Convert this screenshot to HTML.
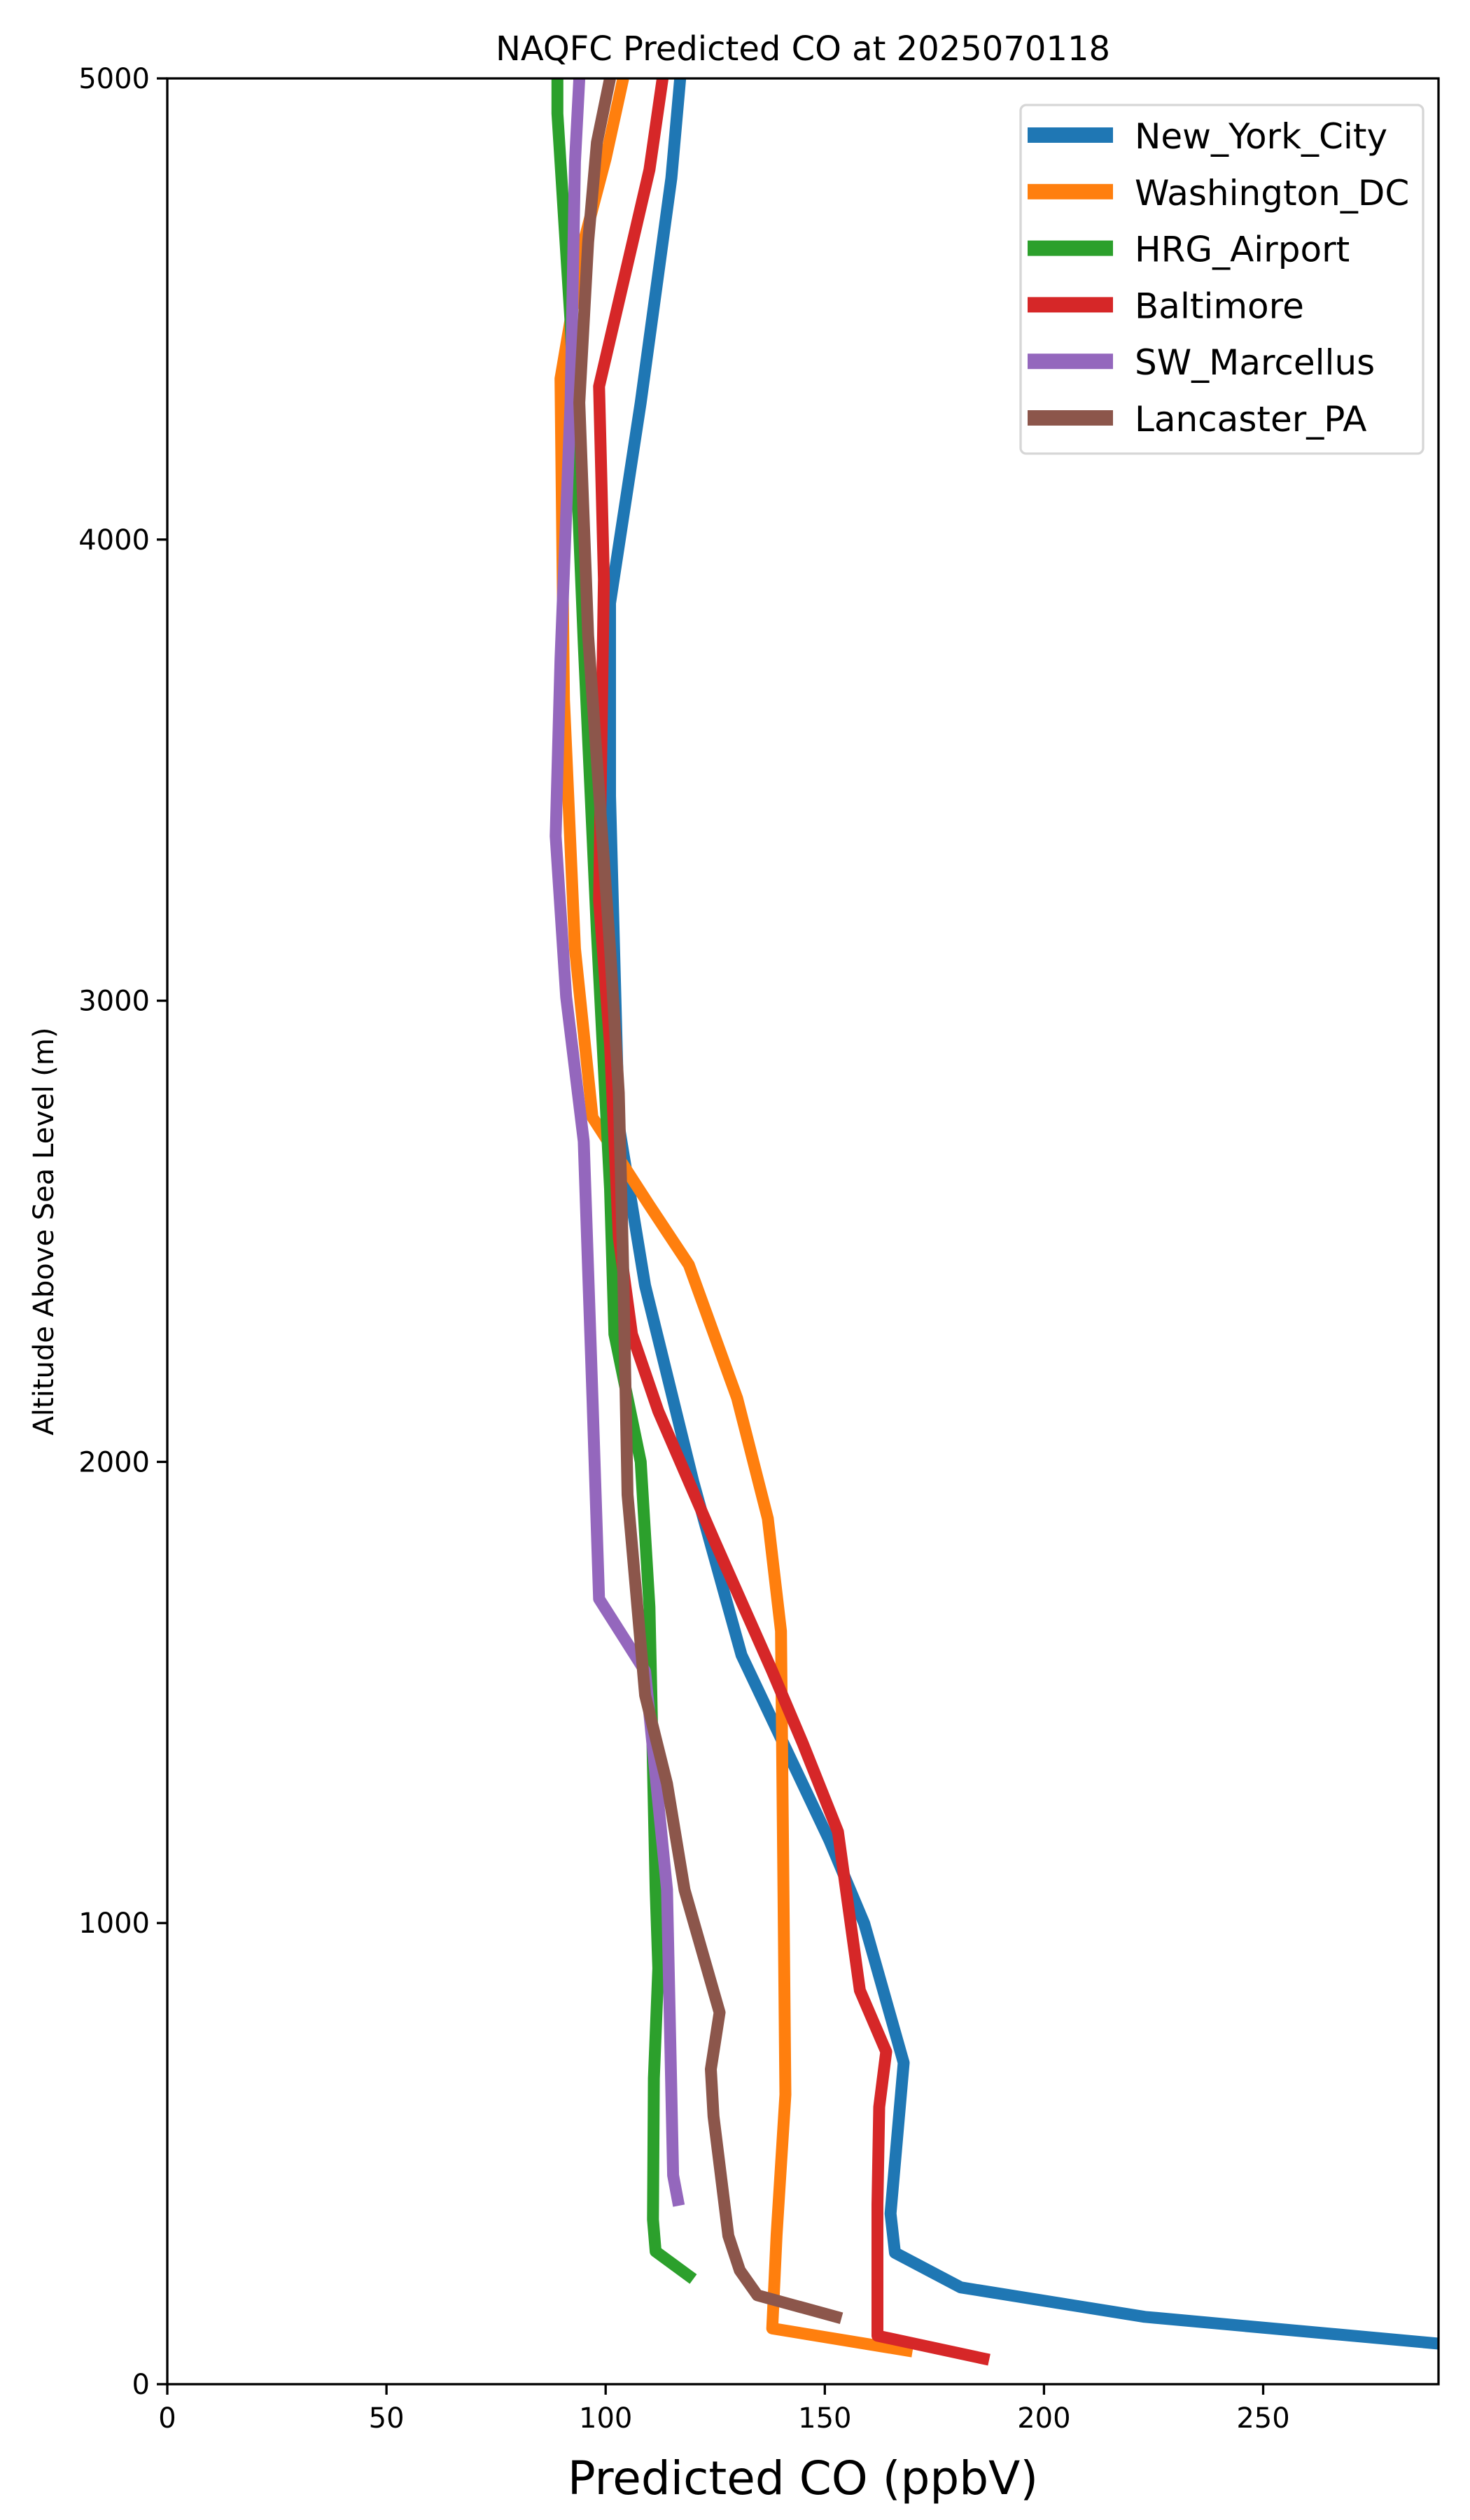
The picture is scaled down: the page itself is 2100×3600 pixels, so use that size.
<!DOCTYPE html>
<html><head><meta charset="utf-8"><style>
html,body{margin:0;padding:0;background:#fff;}
svg{display:block;font-family:"DejaVu Sans","Liberation Sans",sans-serif;}
</style></head><body>
<svg id="chart" width="2100" height="3600" viewBox="0 0 2100 3600" xmlns="http://www.w3.org/2000/svg">
<rect width="2100" height="3600" fill="#fff"/>
<defs><clipPath id="plotclip"><rect x="239" y="112" width="1816" height="3294"/></clipPath></defs>
<text x="1147" y="86" font-size="48" text-anchor="middle">NAQFC Predicted CO at 2025070118</text>
<g id="series" clip-path="url(#plotclip)"></g>
<g id="axes"></g>
<text x="1147" y="3563" font-size="66" text-anchor="middle">Predicted CO (ppbV)</text>
<text transform="translate(76,1759) rotate(-90)" font-size="40" text-anchor="middle">Altitude Above Sea Level (m)</text>
<g id="legend"></g>
</svg>
<script>
const seriesNames = ["New_York_City","Washington_DC","HRG_Airport","Baltimore","SW_Marcellus","Lancaster_PA"];
const seriesColors = ["#1f77b4","#ff7f0e","#2ca02c","#d62728","#9467bd","#8c564b"];
const nycCO  = [320,290,223,181,166,165,168,159,151,131,120,109,103,101,101,108,115,117];
const nycAlt = [62,88,146,210,285,370,697,999,1180,1581,1957,2382,2730,3444,3862,4297,4784,5000];
const dcCO   = [170,138,139,141,140,137,130,119,110,97,93,90.5,89.7,95,100,104];
const dcAlt  = [71,121,323,628,1633,1877,2138,2427,2556,2747,3113,3653,4349,4645,4826,5000];
const hrgCO  = [120,111.4,110.8,111,112,111.4,110,108,102,101,98,95,92,89,89];
const hrgAlt = [228,288,357,663,902,1072,1685,2000,2277,2591,3148,3774,4471,4924,5000];
const balCO  = [187.5,162,162,162.4,164,158,153,145,138,125,112,106,103,101,98.5,99.6,98.5,110,113];
const balAlt = [53,105,390,601,721,854,1198,1389,1546,1825,2110,2277,2486,2904,3217,3914,4332,4802,5000];
const swmCO  = [116.7,115.4,114,109,98.5,97,95,91,88.6,89.7,92,93,94];
const swmAlt = [387,453,1072,1546,1703,2138,2695,3008,3357,3740,4297,4819,5000];
const lanCO  = [153.8,134.6,130.6,128,124.6,124,126,118,114,109,105,104,103,101,96,94,96,98,101];
const lanAlt = [143,193,247,322,581,683,806,1072,1302,1494,1929,2417,2800,3113,3792,4297,4645,4861,5000];
const xTicks = [0,50,100,150,200,250];
const yTicks = [0,1000,2000,3000,4000,5000];
const xMax = 290, yMax = 5000;

const NS = "http://www.w3.org/2000/svg";
const L=239,R=2055,T=112,B=3406;
const xs = v => L + v/xMax*(R-L);
const ys = v => B - v/yMax*(B-T);
const allCO=[nycCO,dcCO,hrgCO,balCO,swmCO,lanCO];
const allAlt=[nycAlt,dcAlt,hrgAlt,balAlt,swmAlt,lanAlt];
const sg=document.getElementById('series');
allCO.forEach((co,i)=>{
  const p=document.createElementNS(NS,'polyline');
  p.setAttribute('points',co.map((c,j)=>xs(c).toFixed(1)+','+ys(allAlt[i][j]).toFixed(1)).join(' '));
  p.setAttribute('fill','none');p.setAttribute('stroke',seriesColors[i]);
  p.setAttribute('stroke-width','17');p.setAttribute('stroke-linejoin','round');
  
  
  sg.appendChild(p);
});
const ag=document.getElementById('axes');
const fr=document.createElementNS(NS,'rect');
fr.setAttribute('x',L);fr.setAttribute('y',T);fr.setAttribute('width',R-L);fr.setAttribute('height',B-T);
fr.setAttribute('fill','none');fr.setAttribute('stroke','#000');fr.setAttribute('stroke-width','3.3');


ag.appendChild(fr);
xTicks.forEach(t=>{
  const x=xs(t);
  const ln=document.createElementNS(NS,'line');
  ln.setAttribute('x1',x);ln.setAttribute('x2',x);ln.setAttribute('y1',B);ln.setAttribute('y2',B+15);
  ln.setAttribute('stroke','#000');ln.setAttribute('stroke-width','3.3');
  
  
  ag.appendChild(ln);
  const tx=document.createElementNS(NS,'text');
  tx.setAttribute('x',x);tx.setAttribute('y',B+62);tx.setAttribute('font-size','40');tx.setAttribute('text-anchor','middle');
  tx.textContent=t;
  
  
  ag.appendChild(tx);
});
yTicks.forEach(t=>{
  const y=ys(t);
  const ln=document.createElementNS(NS,'line');
  ln.setAttribute('x1',L-15);ln.setAttribute('x2',L);ln.setAttribute('y1',y);ln.setAttribute('y2',y);
  ln.setAttribute('stroke','#000');ln.setAttribute('stroke-width','3.3');
  
  
  ag.appendChild(ln);
  const tx=document.createElementNS(NS,'text');
  tx.setAttribute('x',L-25);tx.setAttribute('y',y+14);tx.setAttribute('font-size','40');tx.setAttribute('text-anchor','end');
  tx.textContent=t;
  
  
  ag.appendChild(tx);
});
const lg=document.getElementById('legend');
const box=document.createElementNS(NS,'rect');
box.setAttribute('x',1458);box.setAttribute('y',150);box.setAttribute('width',575);box.setAttribute('height',498);
box.setAttribute('rx',8);box.setAttribute('fill','#fff');box.setAttribute('fill-opacity','0.8');
box.setAttribute('stroke','#d6d6d6');box.setAttribute('stroke-width','3.3');


lg.appendChild(box);
seriesNames.forEach((n,i)=>{
  const y=193+i*80.8;
  const h=document.createElementNS(NS,'rect');
  h.setAttribute('x',1468);h.setAttribute('y',y-11);h.setAttribute('width',122);h.setAttribute('height',22);
  h.setAttribute('fill',seriesColors[i]);
  
  
  lg.appendChild(h);
  const tx=document.createElementNS(NS,'text');
  tx.setAttribute('x',1621);tx.setAttribute('y',y+19);tx.setAttribute('font-size','50');
  tx.textContent=n;
  
  
  lg.appendChild(tx);
});
</script>
</body></html>
